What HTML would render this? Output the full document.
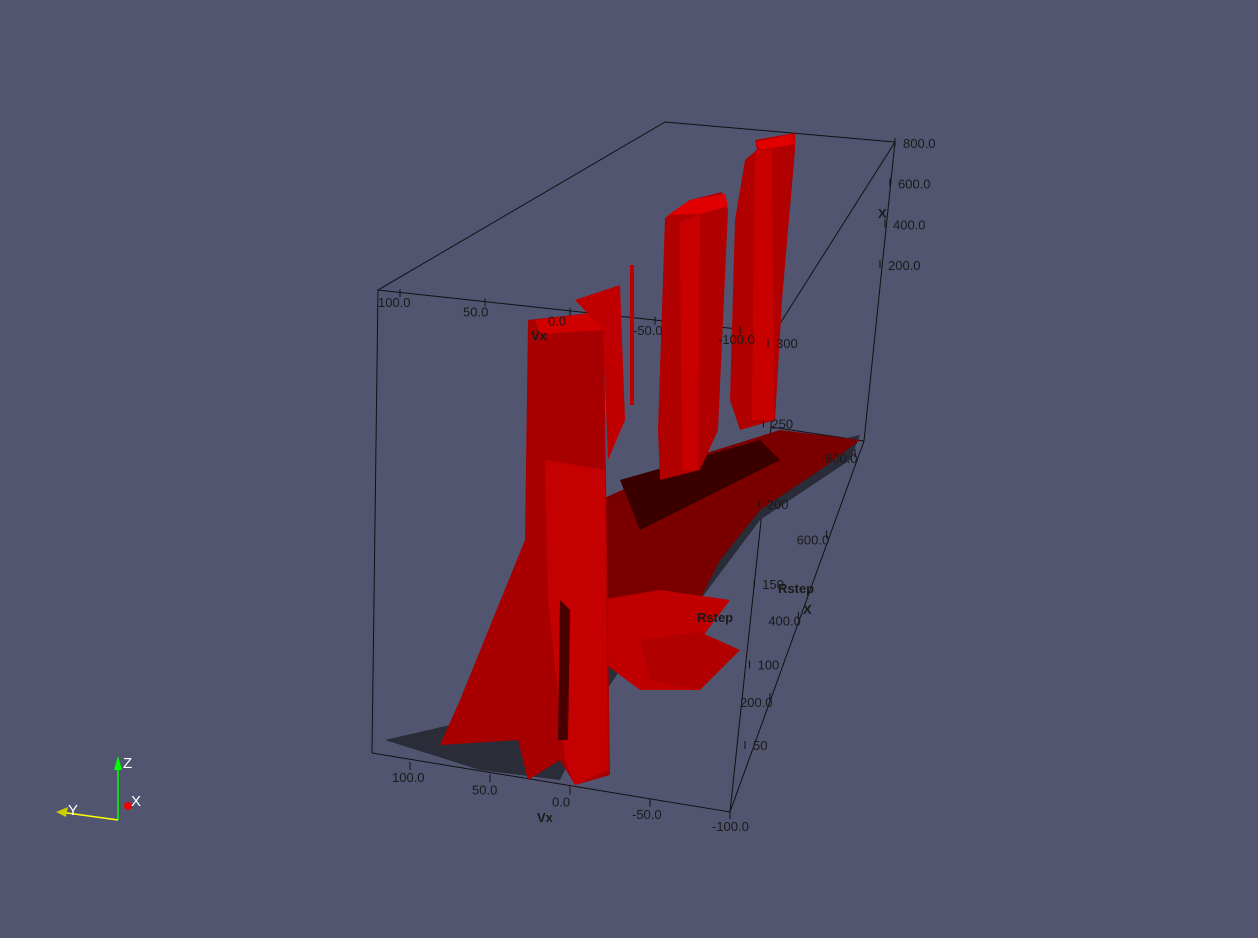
<!DOCTYPE html>
<html><head><meta charset="utf-8"><style>
html,body{margin:0;padding:0;background:#525570;width:1258px;height:938px;overflow:hidden}
svg{display:block}
text{font-family:"Liberation Sans",sans-serif;font-size:13px;fill:#1a1a1a}
</style></head><body>
<svg width="1258" height="938" id="v">
<g stroke="#111" stroke-width="1" fill="none">
<polyline points="378,290 665,122 895,142 864,441 730,812 372,753 378,290 774,333 895,142"/>
<polyline points="774,333 771,427 730,812"/>
<line x1="771" y1="427" x2="864" y2="441"/>
</g>
<g fill="#2a2c38">
<polygon points="385,740 450,725 610,520 700,470 860,435 850,460 760,520 700,600 640,640 600,700 560,780 480,770"/>
</g>
<g>
<polygon points="600,500 700,455 780,430 860,440 820,470 760,510 720,560 700,600 660,625 600,640" fill="#7a0000"/>
<polygon points="600,600 660,590 730,600 700,640 700,690 640,690 600,660" fill="#c00000"/>
<polygon points="620,480 760,440 780,460 700,500 640,530" fill="#3a0000"/>
<polygon points="640,640 700,632 740,650 700,690 650,680" fill="#b00000"/>
</g>
<g>
<polygon points="440,745 460,700 525,540 528,320 600,312 604,330 610,775 575,785 560,760 528,780 518,740" fill="#a80000"/>
<polygon points="535,320 600,312 604,330 540,334" fill="#d00000"/>
<polygon points="545,460 605,470 608,770 575,785 565,760 548,600" fill="#c40000"/>
<polygon points="560,600 570,610 568,740 558,740" fill="#4a0000"/>
<polygon points="575,300 620,285 625,420 608,460 603,330" fill="#c00000"/>
</g>
<rect x="630" y="265" width="4" height="140" fill="#c00000"/>
<g>
<polygon points="665,218 690,200 722,192 728,210 718,430 700,470 660,480 658,430" fill="#b00000"/>
<polygon points="668,215 690,200 725,194 728,206 700,214" fill="#e00000"/>
<polygon points="680,222 700,214 698,470 682,470" fill="#c80000"/>
</g>
<g>
<polygon points="735,220 745,160 757,150 755,140 795,133 795,150 782,300 775,420 740,430 730,400" fill="#b00000"/>
<polygon points="755,142 792,134 796,144 760,150" fill="#e00000"/>
<polygon points="755,150 772,150 774,420 752,420" fill="#c80000"/>
</g>
<g id="labels"></g>
<g>
<line x1="118" y1="820" x2="118" y2="762" stroke="#0f0" stroke-width="1.5"/>
<polygon points="114,770 118,756 122,770" fill="#0f0"/>
<line x1="118" y1="820" x2="60" y2="812" stroke="#ff0" stroke-width="1.5"/>
<polygon points="56,812 68,807 66,817" fill="#cc0"/>
<circle cx="128" cy="806" r="4" fill="#e00"/>
<text x="123" y="768" style="fill:#fff;font-size:15px">Z</text>
<text x="68" y="815" style="fill:#fff;font-size:15px">Y</text>
<text x="131" y="806" style="fill:#fff;font-size:15px">X</text>
</g>
</svg>
<script>
const topVxTicks=["100.0","50.0","0.0","-50.0","-100.0"];
const botVxTicks=["100.0","50.0","0.0","-50.0","-100.0"];
const rightZTicks=["800.0","600.0","400.0","200.0"];
const xTicks=["800.0","600.0","400.0","200.0"];
const rTicks=["300","250","200","150","100","50"];
const g=document.getElementById('labels');
function lerp(a,b,t){return [a[0]+(b[0]-a[0])*t,a[1]+(b[1]-a[1])*t];}
function put(list,a,b,dx,dy,name){
  list.forEach((s,i)=>{
    const p=lerp(a,b,list.length>1?i/(list.length-1):0);
    const t=document.createElementNS('http://www.w3.org/2000/svg','text');
    t.setAttribute('x',p[0]+dx);t.setAttribute('y',p[1]+dy);t.textContent=s;
    
    
    g.appendChild(t);
    const l=document.createElementNS('http://www.w3.org/2000/svg','line');
    l.setAttribute('x1',p[0]);l.setAttribute('y1',p[1]-4);l.setAttribute('x2',p[0]);l.setAttribute('y2',p[1]+4);
    l.setAttribute('stroke','#111');
    
    
    g.appendChild(l);
  });
}
put(topVxTicks,[400,293],[740,330],-22,14);
put(botVxTicks,[410,766],[730,815],-18,16);
put(rightZTicks,[895,142],[880,264],8,6);
put(xTicks,[855,453],[770,697],-30,10);
put(rTicks,[768,343],[745,745],8,5);
function lbl(s,x,y,n){const t=document.createElementNS('http://www.w3.org/2000/svg','text');t.setAttribute('x',x);t.setAttribute('y',y);t.textContent=s;t.setAttribute('style','font-weight:bold');


g.appendChild(t);}
lbl('Vx',531,340,'top-vx-title');lbl('Vx',537,822,'bottom-vx-title');
lbl('Rstep',697,622,'rstep-title');lbl('Rstep',778,593,'rstep-title-2');lbl('X',803,614,'x-title');lbl('X',878,218,'x-title-top');
</script>
</body></html>
